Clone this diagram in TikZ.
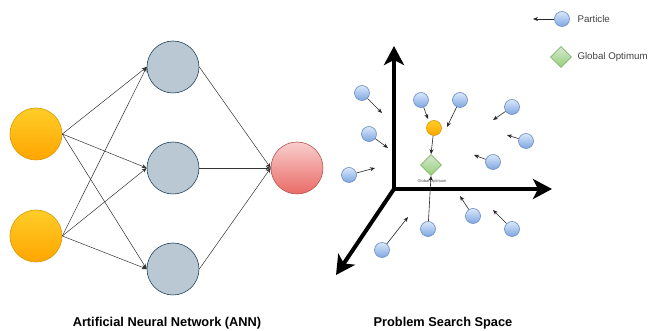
\documentclass[tikz,border=0pt]{standalone}
\usepackage{fontspec}
\setmainfont{Liberation Sans}
\usetikzlibrary{arrows.meta,shapes.geometric,shadings}
\definecolor{inTop}{HTML}{FFCD28}
\definecolor{inBot}{HTML}{FFA500}
\definecolor{inLine}{HTML}{D79B00}
\definecolor{hidFill}{HTML}{BAC8D3}
\definecolor{hidLine}{HTML}{23445D}
\definecolor{outTop}{HTML}{F8CECC}
\definecolor{outBot}{HTML}{EA6B66}
\definecolor{outLine}{HTML}{B85450}
\definecolor{pTop}{HTML}{DAE8FC}
\definecolor{pBot}{HTML}{7EA6E0}
\definecolor{pLine}{HTML}{6C8EBF}
\definecolor{gTop}{HTML}{D5E8D4}
\definecolor{gBot}{HTML}{97D077}
\definecolor{gLine}{HTML}{82B366}
\tikzset{
  neuron/.style={circle, minimum size=52pt, inner sep=0pt, line width=0.6pt},
  inputn/.style={neuron, draw=inLine, top color=inTop, bottom color=inBot},
  hiddenn/.style={neuron, draw=hidLine, fill=hidFill},
  outputn/.style={neuron, draw=outLine, top color=outTop, bottom color=outBot},
  link/.style={draw=black!80, line width=0.5pt, -{Stealth[length=5pt,width=4pt]}},
  particle/.style={circle, minimum size=15pt, inner sep=0pt, line width=0.6pt, draw=pLine, top color=pTop, bottom color=pBot},
  best/.style={circle, minimum size=15pt, inner sep=0pt, line width=0.6pt, draw=inLine, top color=inTop, bottom color=inBot},
  optimum/.style={diamond, minimum size=21pt, inner sep=0pt, line width=0.6pt, draw=gLine, top color=gTop, bottom color=gBot},
  move/.style={draw=black!85, line width=0.6pt, -{Stealth[length=5pt,width=4pt]}},
  axis/.style={draw=black, line width=4pt, -{Stealth[length=19pt,width=20pt,inset=5pt]}},
  caption/.style={font=\bfseries\fontsize{12.8}{15}\selectfont},
  legendtext/.style={font=\fontsize{9.7}{11}\selectfont, anchor=west, text=black!75}
}
\begin{document}
\begin{tikzpicture}[x=1pt,y=-1pt]
\useasboundingbox (0,0) rectangle (649,331);

% ---- neural network ----
\node[inputn] (i1) at (36,134) {};
\node[inputn] (i2) at (36,236) {};
\node[hiddenn] (h1) at (173,67) {};
\node[hiddenn] (h2) at (173,168) {};
\node[hiddenn] (h3) at (173,269) {};
\node[outputn] (o) at (297,168) {};
\foreach \a in {i1,i2}
  \foreach \b in {h1,h2,h3}
    \draw[link] (\a.east) -- (\b.west);
\foreach \b in {h1,h2,h3}
  \draw[link] (\b.east) -- (o.west);
\node[caption] (annT) at (167,323) {Artificial Neural Network (ANN)};

% ---- search space axes ----
\coordinate (org) at (394,189);
\coordinate (ytip) at (394,46);
\coordinate (xtip) at (552,189);
\coordinate (ztip) at (336,275);
\draw[axis] (org) -- (ytip);
\draw[axis] (org) -- (xtip);
\draw[axis] (org) -- (ztip);

% ---- optimum and best particle ----
\node[optimum] (gopt) at (431,165) {};
\node[font=\fontsize{4}{5}\selectfont, text=black!70] (goptT) at (432,181) {Global Optimum};
\node[best] (gb) at (434,128) {};
\draw[move] (gb) -- (gopt.north);

% ---- particles with their moves ----
\foreach \n/\px/\py/\tx/\ty in {
  p1/362/93/382/113, p2/369/134/388/148, p3/349/175/375/168,
  p4/421/100/428/119, p5/460/100/447/127, p6/512/107/493/120,
  p7/526/141/507/135, p8/493/162/474/155, p9/473/216/460/196,
  p10/512/229/493/210, p12/382/250/408/217}{
  \node[particle] (\n) at (\px,\py) {};
  \coordinate (\n t) at (\tx,\ty);
  \draw[move] (\n) -- (\n t);
}
\node[particle] (p11) at (428,229) {};
\draw[move] (p11) -- (gopt.south);

% ---- legend ----
\node[particle] (lp) at (562,19) {};
\coordinate (lpt) at (533,19);
\draw[move] (lp) -- (lpt);
\node[legendtext] (lpT) at (574,19) {Particle};
\node[optimum] (lg) at (561,57) {};
\node[legendtext] (lgT) at (574,57) {Global Optimum};

\node[caption] (pssT) at (443,323) {Problem Search Space};
\end{tikzpicture}
\end{document}
